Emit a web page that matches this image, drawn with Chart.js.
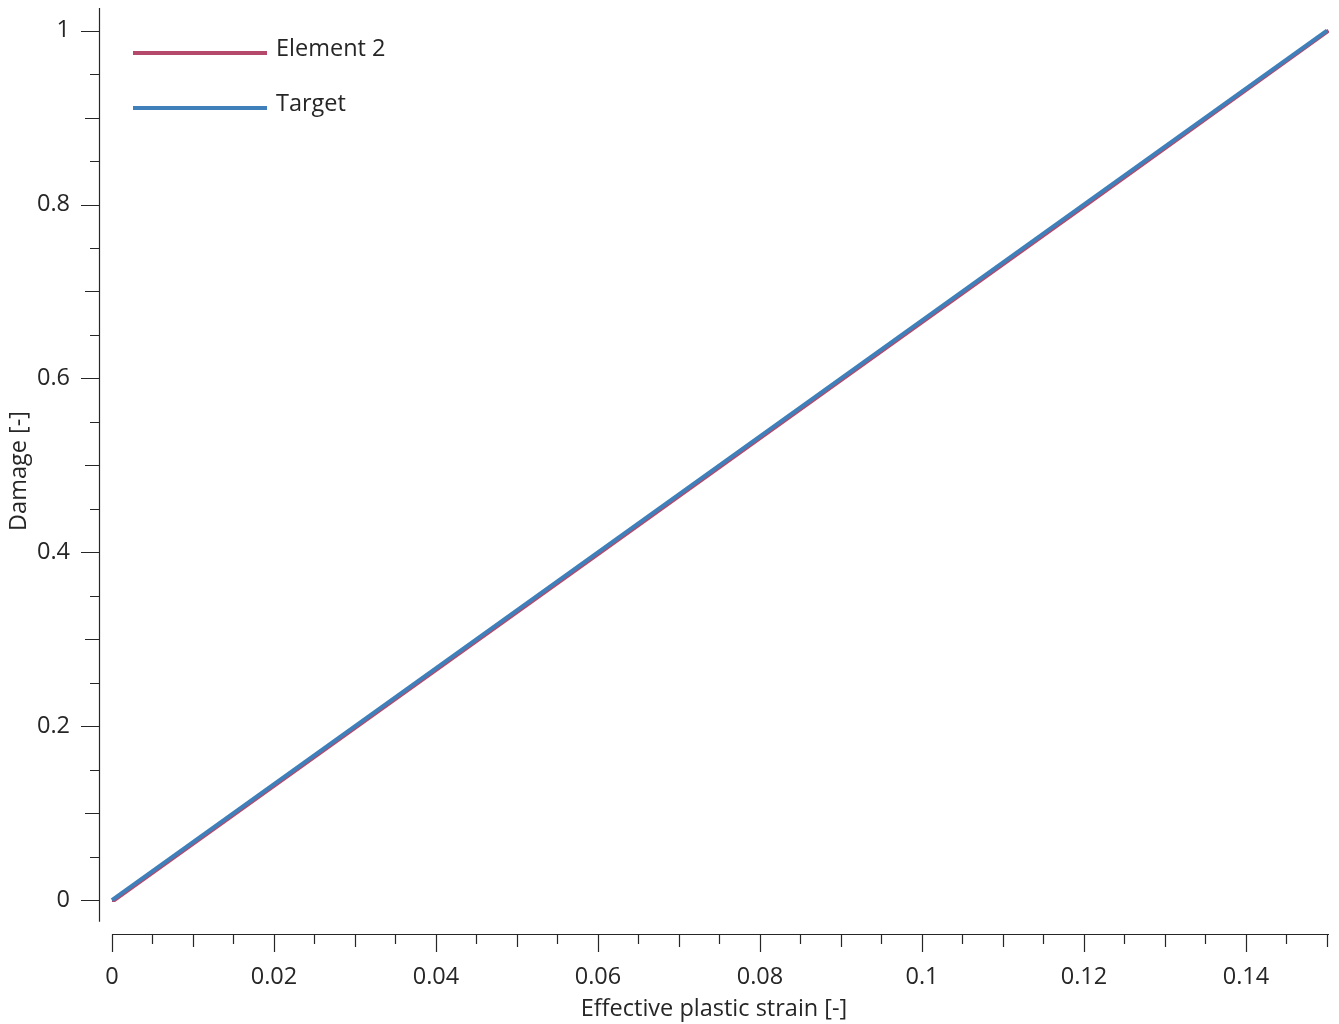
<!DOCTYPE html>
<html>
<head>
<meta charset="utf-8">
<script src="https://cdn.jsdelivr.net/npm/chart.js@4/dist/chart.umd.min.js"></script>
<style>
  body { margin: 0; background: #fff; }
  #wrap { width: 1339px; height: 1024px; }
</style>
</head>
<body>
<div id="wrap"><canvas id="damageChart" width="1339" height="1024"></canvas></div>
<script>
// data
const elementStrain = [0, 0.0003, 0.0303, 0.0603, 0.0903, 0.1203, 0.1502];
const elementDamage = [0, 0, 0.2, 0.4, 0.6, 0.8, 1.0];
const targetStrain = [0, 0.15];
const targetDamage = [0, 1.0];
const xTickLabels = [0, 0.02, 0.04, 0.06, 0.08, 0.1, 0.12, 0.14];
const yTickLabels = [0, 0.2, 0.4, 0.6, 0.8, 1];
const seriesNames = ["Element 2", "Target"];
const seriesColors = ["#b4496c", "#3f80ba"];

const FONT = "'Open Sans', 'Noto Sans', sans-serif";
const FONT_SIZE = 23.5;
const INK = "#262626";

const toPoints = (xs, ys) => xs.map((x, i) => ({ x: x, y: ys[i] }));

// minor/major tick marks + detached axis lines
const axisPlugin = {
    id: "axisTicks",
    afterDraw(chart) {
        const ctx = chart.ctx;
        const xs = chart.scales.x;
        const ys = chart.scales.y;
        const area = chart.chartArea;
        ctx.save();
        ctx.strokeStyle = INK;
        ctx.lineWidth = 1.2;
        ctx.beginPath();
        // y axis line
        ctx.moveTo(area.left + 0.5, area.top);
        ctx.lineTo(area.left + 0.5, ys.getPixelForValue(-0.025));
        // x axis line
        ctx.moveTo(xs.getPixelForValue(0), area.bottom + 0.5);
        ctx.lineTo(area.right, area.bottom + 0.5);
        // x ticks every 0.005
        for (let i = 0; i <= 30; i++) {
            const v = i * 0.005;
            const px = Math.round(xs.getPixelForValue(v)) + 0.5;
            let len = 10;
            if (i % 4 === 0) len = 18;
            else if (i % 2 === 0) len = 13;
            ctx.moveTo(px, area.bottom);
            ctx.lineTo(px, area.bottom + len);
        }
        // y ticks every 0.05
        for (let i = 0; i <= 20; i++) {
            const v = i * 0.05;
            const py = Math.round(ys.getPixelForValue(v)) + 0.5;
            let len = 9;
            if (i % 4 === 0) len = 18;
            else if (i % 2 === 0) len = 14;
            ctx.moveTo(area.left, py);
            ctx.lineTo(area.left - len, py);
        }
        ctx.stroke();
        ctx.restore();
    }
};

const legendPlugin = {
    id: "lineLegend",
    afterDatasetsDraw(chart) {
        const ctx = chart.ctx;
        const area = chart.chartArea;
        ctx.save();
        ctx.font = FONT_SIZE + "px " + FONT;
        ctx.textBaseline = "middle";
        ctx.fillStyle = INK;
        seriesNames.forEach((name, i) => {
            const y = area.top + 45 + i * 55;
            ctx.strokeStyle = seriesColors[i];
            ctx.lineWidth = 4;
            ctx.beginPath();
            ctx.moveTo(area.left + 34, y);
            ctx.lineTo(area.left + 168, y);
            ctx.stroke();
            ctx.fillText(name, area.left + 177, y - 4);
        });
        ctx.restore();
    }
};

const data = {
    datasets: [
        {
            label: seriesNames[0],
            data: toPoints(elementStrain, elementDamage),
            borderColor: seriesColors[0],
            backgroundColor: seriesColors[0],
            borderWidth: 4,
            pointRadius: 0,
            order: 1
        },
        {
            label: seriesNames[1],
            data: toPoints(targetStrain, targetDamage),
            borderColor: seriesColors[1],
            backgroundColor: seriesColors[1],
            borderWidth: 4,
            pointRadius: 0,
            order: 0
        }
    ]
};

const config = {
    type: "line",
    data: data,
    options: {
        responsive: false,
        animation: false,
        layout: { padding: { left: 0, top: 8, right: 10, bottom: 0 } },
        plugins: {
            legend: { display: false },
            tooltip: { enabled: false }
        },
        scales: {
            x: {
                type: "linear",
                min: -0.0016,
                max: 0.15025,
                grid: { display: false, drawTicks: false },
                border: { display: false },
                afterBuildTicks: (axis) => { axis.ticks = xTickLabels.map(v => ({ value: v })); },
                afterFit: (axis) => {
                    axis.height = 90;
                    axis.paddingLeft = 0;
                    axis.paddingRight = 0;
                },
                ticks: {
                    padding: 29,
                    maxRotation: 0,
                    autoSkip: false,
                    color: INK,
                    font: { family: FONT, size: FONT_SIZE },
                    callback: (v) => String(+v.toFixed(3))
                },
                title: {
                    display: true,
                    text: "Effective plastic strain [-]",
                    color: INK,
                    padding: { top: 0, bottom: 1 },
                    font: { family: FONT, size: FONT_SIZE }
                }
            },
            y: {
                type: "linear",
                min: -0.039,
                max: 1.026,
                grid: { display: false, drawTicks: false },
                border: { display: false },
                afterBuildTicks: (axis) => { axis.ticks = yTickLabels.map(v => ({ value: v })); },
                afterFit: (axis) => {
                    axis.width = 99;
                    axis.paddingTop = 0;
                    axis.paddingBottom = 0;
                },
                ticks: {
                    padding: 29,
                    autoSkip: false,
                    color: INK,
                    font: { family: FONT, size: FONT_SIZE },
                    callback: (v) => String(+v.toFixed(2))
                },
                title: {
                    display: true,
                    text: "Damage [-]",
                    color: INK,
                    padding: { top: 5, bottom: 0 },
                    font: { family: FONT, size: FONT_SIZE }
                }
            }
        }
    },
    plugins: [axisPlugin, legendPlugin]
};

new Chart(document.getElementById("damageChart"), config);
</script>
</body>
</html>
